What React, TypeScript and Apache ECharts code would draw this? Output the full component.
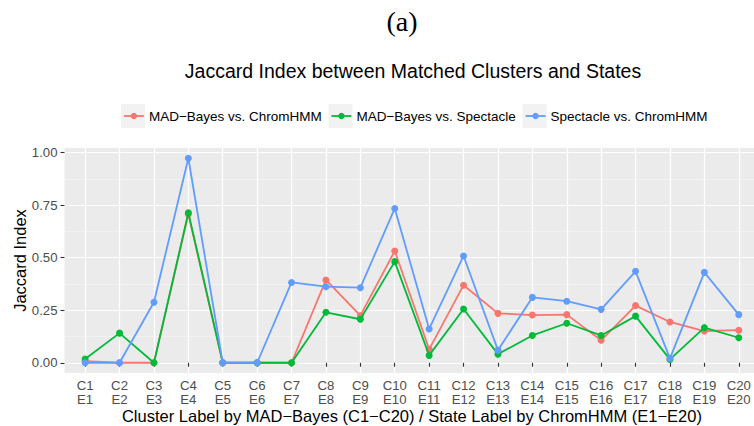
import React, { useEffect, useRef } from "react";
import * as echarts from "echarts";

// Cluster / state labels along the x axis
const clusters = ["C1", "C2", "C3", "C4", "C5", "C6", "C7", "C8", "C9", "C10", "C11", "C12", "C13", "C14", "C15", "C16", "C17", "C18", "C19", "C20"];
const states = ["E1", "E2", "E3", "E4", "E5", "E6", "E7", "E8", "E9", "E10", "E11", "E12", "E13", "E14", "E15", "E16", "E17", "E18", "E19", "E20"];

// Jaccard index per matched pair
const madVsChromHMM = [0.008, 0, 0, 0.707, 0, 0, 0, 0.394, 0.224, 0.532, 0.064, 0.369, 0.235, 0.227, 0.229, 0.107, 0.272, 0.194, 0.151, 0.155];
const madVsSpectacle = [0.018, 0.141, 0, 0.714, 0, 0, 0, 0.24, 0.207, 0.481, 0.035, 0.256, 0.041, 0.13, 0.188, 0.13, 0.222, 0.016, 0.167, 0.119];
const spectacleVsChromHMM = [0, 0, 0.288, 0.973, 0, 0, 0.382, 0.362, 0.357, 0.734, 0.161, 0.508, 0.06, 0.311, 0.293, 0.254, 0.435, 0.021, 0.43, 0.229];

const seriesNames = ["MAD\u2212Bayes vs. ChromHMM", "MAD\u2212Bayes vs. Spectacle", "Spectacle vs. ChromHMM"];
const seriesColors = ["#F8766D", "#00BA38", "#619CFF"];
const seriesValues = [madVsChromHMM, madVsSpectacle, spectacleVsChromHMM];

const yMajorTicks = [0, 0.25, 0.5, 0.75, 1];
const yMinorTicks = [0.125, 0.375, 0.625, 0.875];

const FONT = "Liberation Sans, Arial, Helvetica, sans-serif";

export default function App() {
  const ref = useRef<HTMLDivElement>(null);

  useEffect(() => {
    if (!ref.current) return;
    const chart = echarts.init(ref.current, null, { renderer: "svg" });

    const xPositions = clusters.map((_, i) => i + 1);
    const yMin = -0.0487;
    const yMax = 1.0217;

    // legend key backgrounds and legend anchors
    const keyBoxLefts = [121, 328.5, 522.7];
    const legendLefts = keyBoxLefts.map((x) => x + 2);

    const option: any = {
      animation: false,
      backgroundColor: "#ffffff",
      title: [
        {
          text: "(a)",
          left: 397,
          top: 2,
          textAlign: "center",
          textStyle: { fontFamily: "Liberation Serif, Times New Roman, serif", fontSize: 28, fontWeight: "normal", color: "#000" },
        },
        {
          text: "Jaccard Index between Matched Clusters and States",
          left: 408,
          top: 56,
          textAlign: "center",
          textStyle: { fontFamily: FONT, fontSize: 19.5, fontWeight: "normal", color: "#000" },
        },
      ],
      graphic: keyBoxLefts.map((x) => ({
        type: "rect",
        shape: { x, y: 104, width: 24, height: 24 },
        style: { fill: "#F2F2F2" },
        z: -10,
      })),
      legend: seriesNames.map((name, i) => ({
        data: [name],
        left: legendLefts[i],
        top: 109,
        padding: 0,
        itemWidth: 20,
        itemHeight: 8,
        textStyle: { fontFamily: FONT, fontSize: 13.5, color: "#000" },
        selectedMode: false,
        lineStyle: { width: 1.8 },
      })),
      grid: {
        left: 64.5,
        top: 148,
        width: 694.9,
        height: 225,
        show: true,
        backgroundColor: "#EBEBEB",
        borderWidth: 0,
        containLabel: false,
        outerBoundsMode: "none",
      },
      xAxis: {
        type: "value",
        min: 0.4,
        max: 20.6,
        name: "Cluster Label by MAD\u2212Bayes (C1\u2212C20) / State Label by ChromHMM (E1\u2212E20)",
        nameLocation: "middle",
        nameGap: 34,
        nameMoveOverlap: false,
        nameTextStyle: { fontFamily: FONT, fontSize: 16.5, color: "#000" },
        axisLine: { show: false },
        axisTick: { show: true, length: 4, customValues: xPositions, lineStyle: { color: "#333", width: 1.1 } },
        axisLabel: {
          customValues: xPositions,
          formatter: (v: number) => `${clusters[Math.round(v) - 1]}\n${states[Math.round(v) - 1]}`,
          fontFamily: FONT,
          fontSize: 13.2,
          lineHeight: 14,
          color: "#4D4D4D",
          margin: 5,
        },
        splitLine: { show: true, lineStyle: { color: "#ffffff", width: 1.2 } },
      },
      yAxis: [
        {
          type: "value",
          min: yMin,
          max: yMax,
          name: "Jaccard Index",
          nameLocation: "middle",
          nameGap: 36,
          nameMoveOverlap: false,
          nameRotate: 90,
          nameTextStyle: { fontFamily: FONT, fontSize: 16.5, color: "#000" },
          axisLine: { show: false },
          axisTick: { show: true, length: 4, customValues: yMajorTicks, lineStyle: { color: "#333", width: 1.1 } },
          axisLabel: {
            customValues: yMajorTicks,
            formatter: (v: number) => v.toFixed(2),
            fontFamily: FONT,
            fontSize: 13.2,
            color: "#4D4D4D",
            margin: 7,
          },
          splitLine: { show: true, lineStyle: { color: "#ffffff", width: 1.2 } },
        },
        {
          type: "value",
          min: yMin,
          max: yMax,
          position: "left",
          axisLine: { show: false },
          axisTick: { show: false, customValues: yMinorTicks },
          axisLabel: { show: false, customValues: yMinorTicks },
          splitLine: { show: true, lineStyle: { color: "#F7F7F7", width: 0.6 } },
        },
      ],
      series: seriesNames.map((name, i) => ({
        name,
        type: "line",
        yAxisIndex: 0,
        data: seriesValues[i].map((v, j) => [xPositions[j], v]),
        symbol: "circle",
        symbolSize: 7,
        showSymbol: true,
        color: seriesColors[i],
        lineStyle: { width: 1.8, color: seriesColors[i] },
        itemStyle: { color: seriesColors[i] },
        emphasis: { disabled: true },
        z: 2 + i,
      })),
    };

    chart.setOption(option);
    return () => chart.dispose();
  }, []);

  return <div ref={ref} style={{ width: 754, height: 426, position: "absolute", left: 0, top: 0 }} />;
}
